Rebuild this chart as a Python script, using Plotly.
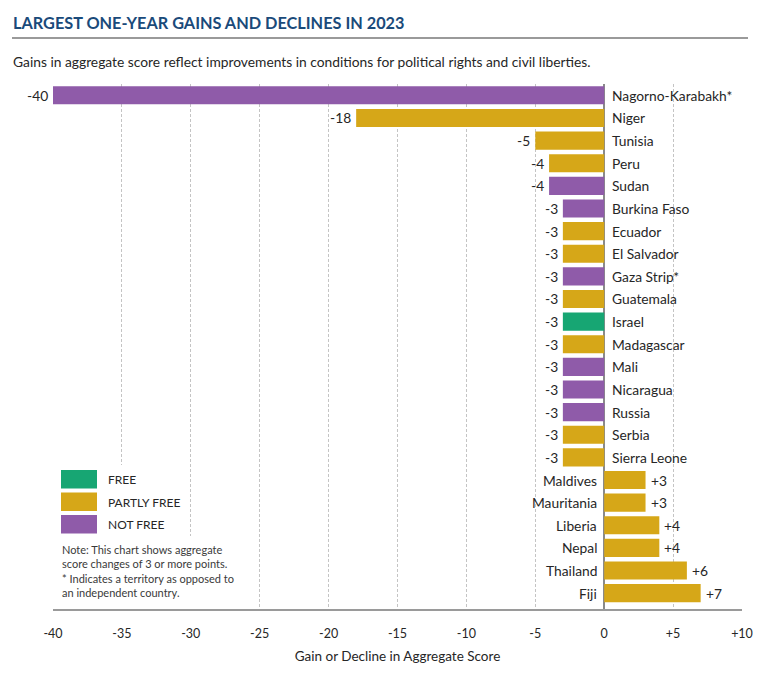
import plotly.graph_objects as go

countries = ["Nagorno-Karabakh*", "Niger", "Tunisia", "Peru", "Sudan", "Burkina Faso",
             "Ecuador", "El Salvador", "Gaza Strip*", "Guatemala", "Israel", "Madagascar",
             "Mali", "Nicaragua", "Russia", "Serbia", "Sierra Leone", "Maldives",
             "Mauritania", "Liberia", "Nepal", "Thailand", "Fiji"]
changes = [-40, -18, -5, -4, -4, -3, -3, -3, -3, -3, -3, -3, -3, -3, -3, -3, -3,
           3, 3, 4, 4, 6, 7]
status = ["NF", "PF", "PF", "PF", "NF", "NF", "PF", "PF", "NF", "PF", "F", "PF",
          "NF", "NF", "NF", "PF", "PF", "PF", "PF", "PF", "PF", "PF", "PF"]
tick_vals = [-40, -35, -30, -25, -20, -15, -10, -5, 0, 5, 10]
tick_text = ["-40", "-35", "-30", "-25", "-20", "-15", "-10", "-5", "0", "+5", "+10"]

colors = {"F": "#17a673", "PF": "#d6a718", "NF": "#8f5ba9"}
status_names = [("F", "FREE"), ("PF", "PARTLY FREE"), ("NF", "NOT FREE")]

W, H = 760, 675
L, R, T, B = 53, 18, 84, 66
PW, PH = W - L - R, H - T - B

def px(x):
    return (x - L) / PW

def py(y):
    return (H - B - y) / PH

FONT = "Lato"
TXT = "#262626"

fig = go.Figure(go.Bar(
    x=changes, y=countries, orientation="h",
    marker=dict(color=[colors[s] for s in status], line=dict(width=0)),
    hoverinfo="x+y", showlegend=False,
))

ann = []
for c, v in zip(countries, changes):
    if v < 0:
        ann.append(dict(x=0, y=c, text=c, xanchor="left", xshift=6, showarrow=False,
                        font=dict(size=13.8, color=TXT, family=FONT)))
        ann.append(dict(x=v, y=c, text=str(v), xanchor="right", xshift=-3, showarrow=False,
                        font=dict(size=13.8, color=TXT, family=FONT)))
    else:
        ann.append(dict(x=0, y=c, text=c, xanchor="right", xshift=-5, showarrow=False,
                        font=dict(size=13.8, color=TXT, family=FONT)))
        ann.append(dict(x=v, y=c, text="+" + str(v), xanchor="left", xshift=3, showarrow=False,
                        font=dict(size=13.8, color=TXT, family=FONT)))

shapes = []
# white boxes behind legend / note
shapes.append(dict(type="rect", xref="paper", yref="paper", x0=px(56), x1=px(182),
                   y0=py(536), y1=py(465), fillcolor="white", line=dict(width=0), layer="above"))
shapes.append(dict(type="rect", xref="paper", yref="paper", x0=px(56), x1=px(256),
                   y0=py(607), y1=py(536), fillcolor="white", line=dict(width=0), layer="above"))
# legend swatches
for i, (k, name) in enumerate(status_names):
    y0 = 470 + i * 22.5
    shapes.append(dict(type="rect", xref="paper", yref="paper", x0=px(61), x1=px(97),
                       y0=py(y0 + 18.5), y1=py(y0), fillcolor=colors[k],
                       line=dict(width=0), layer="above"))
    ann.append(dict(xref="paper", yref="paper", x=px(106), y=py(y0 + 9.5), text=name,
                    xanchor="left", yanchor="middle", showarrow=False,
                    font=dict(size=12, color=TXT, family=FONT)))

note = ("Note: This chart shows aggregate<br>score changes of 3 or more points.<br>"
        "* Indicates a territory as opposed to<br>an independent country.")
ann.append(dict(xref="paper", yref="paper", x=px(60), y=py(541), text=note, align="left",
                xanchor="left", yanchor="top", showarrow=False,
                font=dict(size=11, color="#3a3a3a", family=FONT)))

# title, rule, subtitle
ann.append(dict(xref="paper", yref="paper", x=px(11), y=py(22), text="<b>LARGEST ONE-YEAR GAINS AND DECLINES IN 2023</b>",
                xanchor="left", yanchor="middle", showarrow=False,
                font=dict(size=16.3, color="#1a4a7a", family=FONT)))
shapes.append(dict(type="line", xref="paper", yref="paper", x0=px(12), x1=px(748),
                   y0=py(38), y1=py(38), line=dict(color="#9a9a9a", width=2)))
ann.append(dict(xref="paper", yref="paper", x=px(11), y=py(61),
                text="Gains in aggregate score reflect improvements in conditions for political rights and civil liberties.",
                xanchor="left", yanchor="middle", showarrow=False,
                font=dict(size=13.8, color=TXT, family=FONT)))

fig.update_layout(
    width=W, height=H,
    margin=dict(l=L, r=R, t=T, b=B, autoexpand=False),
    paper_bgcolor="white", plot_bgcolor="white",
    bargap=0.2,
    annotations=ann, shapes=shapes,
    font=dict(family=FONT, color=TXT),
    xaxis=dict(range=[-40, 10], tickvals=tick_vals, ticktext=tick_text,
               showgrid=True, gridcolor="#c4c4c4", griddash="3px,2px", gridwidth=1,
               zeroline=True, zerolinecolor="#8a8a8a", zerolinewidth=1.5,
               showline=True, linecolor="#9a9a9a", linewidth=1.5,
               ticks="", ticklabelstandoff=12, tickfont=dict(size=12.5, color=TXT),
               title=dict(text="Gain or Decline in Aggregate Score", standoff=12,
                          font=dict(size=13.5, color=TXT)),
               automargin=False, fixedrange=True),
    yaxis=dict(categoryorder="array", categoryarray=countries, range=[22.7, -0.5],
               showticklabels=False, showgrid=False, zeroline=False, ticks="",
               automargin=False, fixedrange=True),
)

fig.write_html("out.html", config={"displayModeBar": False},
               post_script="document.body.style.margin='0px';document.body.style.overflow='hidden';")
